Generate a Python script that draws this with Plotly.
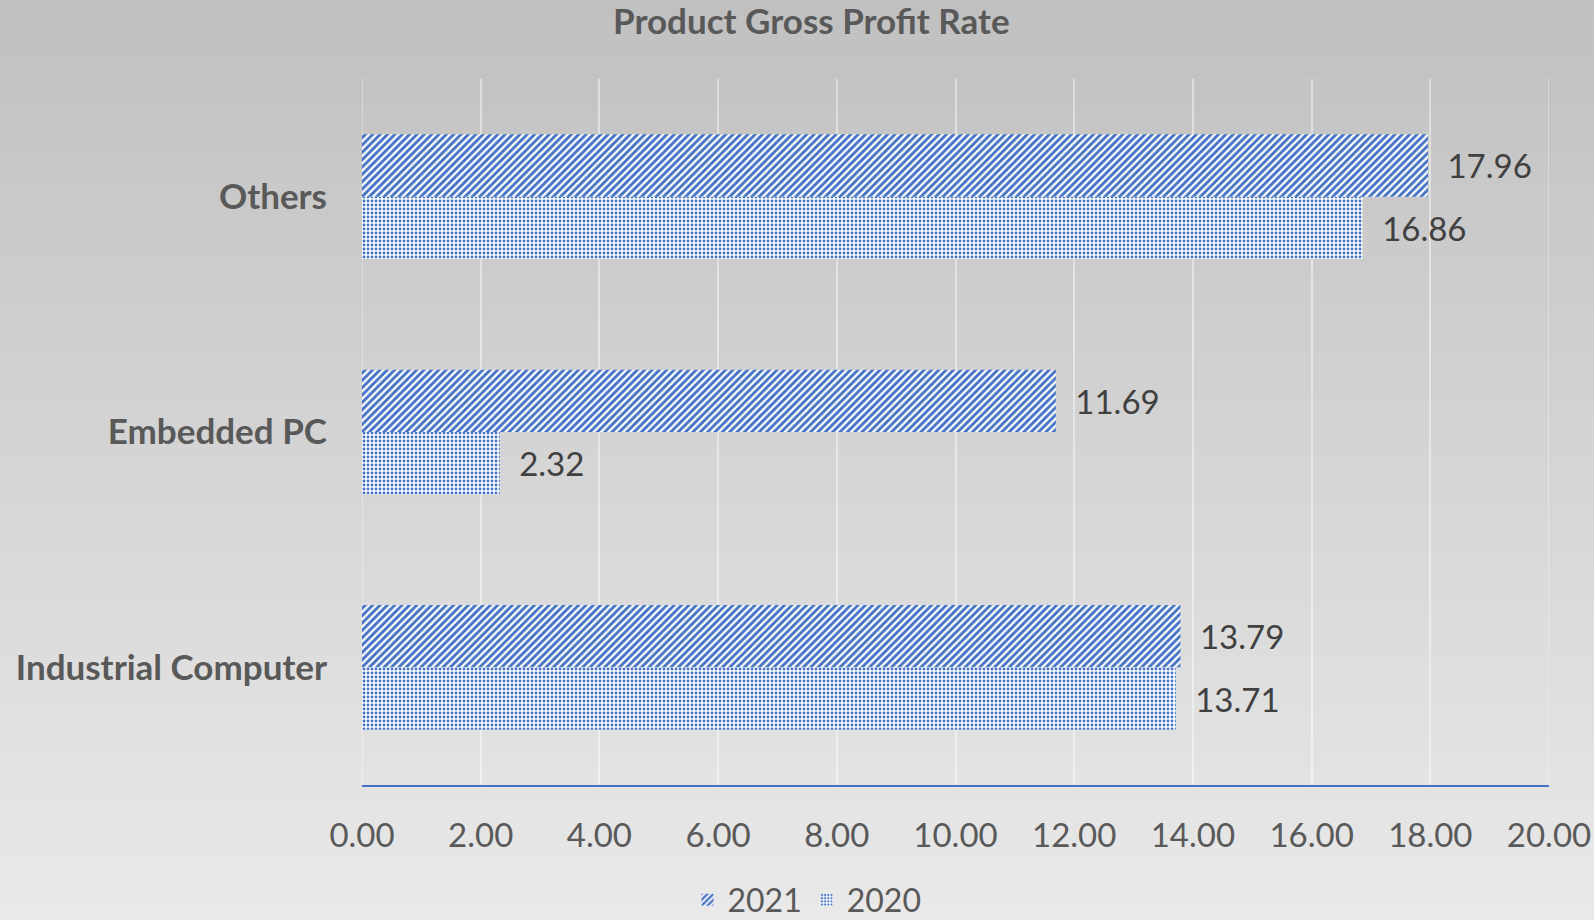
import plotly.graph_objects as go

categories = ["Industrial Computer", "Embedded PC", "Others"]
rate_2021 = [13.79, 11.69, 17.96]
rate_2020 = [13.71, 2.32, 16.86]
x_ticks = [0, 2, 4, 6, 8, 10, 12, 14, 16, 18, 20]

BLUE = "#4472C4"
TEXT = "#595959"
LABEL = "#404040"
FONT = "Lato, 'Open Sans', sans-serif"

W, H = 1594, 920
M_L, M_R, M_T, M_B = 362, 45, 79, 135

fig = go.Figure()

# 2020 first so it sits below 2021 within each group
fig.add_trace(go.Bar(
    name="2020", y=categories, x=rate_2020, orientation="h",
    marker=dict(color="white", line=dict(width=0),
                pattern=dict(shape=".", fgcolor=BLUE, bgcolor="white",
                             fgopacity=1, size=4, solidity=0.4)),
    text=[f"\u2002{v:.2f}" for v in rate_2020], textposition="outside",
    textfont=dict(size=33, color=LABEL, family=FONT),
    legendrank=2, cliponaxis=False,
))
fig.add_trace(go.Bar(
    name="2021", y=categories, x=rate_2021, orientation="h",
    marker=dict(color="white", line=dict(width=0),
                pattern=dict(shape="/", fgcolor=BLUE, bgcolor="white",
                             fgopacity=1, size=5.2, solidity=0.55)),
    text=[f"\u2002{v:.2f}" for v in rate_2021], textposition="outside",
    textfont=dict(size=33, color=LABEL, family=FONT),
    legendrank=1, cliponaxis=False,
))

# vertical gradient background, built from thin bands
pw, ph = W - M_L - M_R, H - M_T - M_B
top_c, bot_c = 192, 233
n = 60
shapes = []
for i in range(n):
    f0, f1 = i / n, (i + 1) / n
    c = round(top_c + (bot_c - top_c) * (i + 0.5) / n)
    y_top = 1 + M_T / ph - f0 * H / ph
    y_bot = 1 + M_T / ph - f1 * H / ph
    shapes.append(dict(
        type="rect", xref="paper", yref="paper", layer="below",
        x0=-M_L / pw - 0.05, x1=1 + M_R / pw + 0.05, y0=y_bot - 0.002, y1=y_top,
        fillcolor=f"rgb({c},{c},{c})", line=dict(width=0),
    ))
# gridlines at both ends of the value axis
for xv in (x_ticks[0], x_ticks[-1]):
    shapes.append(dict(type="line", xref="x", yref="paper", layer="below",
                       x0=xv, x1=xv, y0=0, y1=1,
                       line=dict(color="rgba(255,255,255,0.45)", width=1.5)))

fig.update_layout(
    width=W, height=H,
    margin=dict(l=M_L, r=M_R, t=M_T, b=M_B, autoexpand=False),
    paper_bgcolor="rgb(212,212,212)", plot_bgcolor="rgba(0,0,0,0)",
    shapes=shapes,
    barmode="group", bargap=0.47, bargroupgap=0,
    font=dict(family=FONT, color=TEXT),
    title=dict(text="<b>Product Gross Profit Rate</b>", x=0.509, xanchor="center",
               y=0.976, yanchor="middle", font=dict(size=35, color=TEXT, family=FONT)),
    xaxis=dict(range=[0, 20], tickvals=x_ticks, tickformat=".2f", automargin=False,
               showgrid=True, gridcolor="rgba(255,255,255,0.45)", gridwidth=1.5,
               zeroline=False, showline=True, linecolor=BLUE, linewidth=2,
               ticks="", ticklabelstandoff=20,
               tickfont=dict(size=33, color=TEXT, family=FONT)),
    yaxis=dict(showgrid=False, zeroline=False, showline=False, ticks="",
               ticklabelstandoff=34, automargin=False,
               tickfont=dict(size=35, color=TEXT, family=FONT),
               tickprefix="<b>", ticksuffix="</b>"),
    legend=dict(orientation="h", x=(W / 2 + 10 - M_L) / pw, xanchor="center",
                y=-(900 - (H - M_B)) / ph, yanchor="middle",
                bgcolor="rgba(0,0,0,0)", font=dict(size=32, color=TEXT, family=FONT),
                itemwidth=30),
    showlegend=True,
)

fig.write_html("out.html",
               config={"responsive": False, "displayModeBar": False},
               post_script="document.body.style.margin='0';"
                           "document.body.style.overflow='hidden';")
